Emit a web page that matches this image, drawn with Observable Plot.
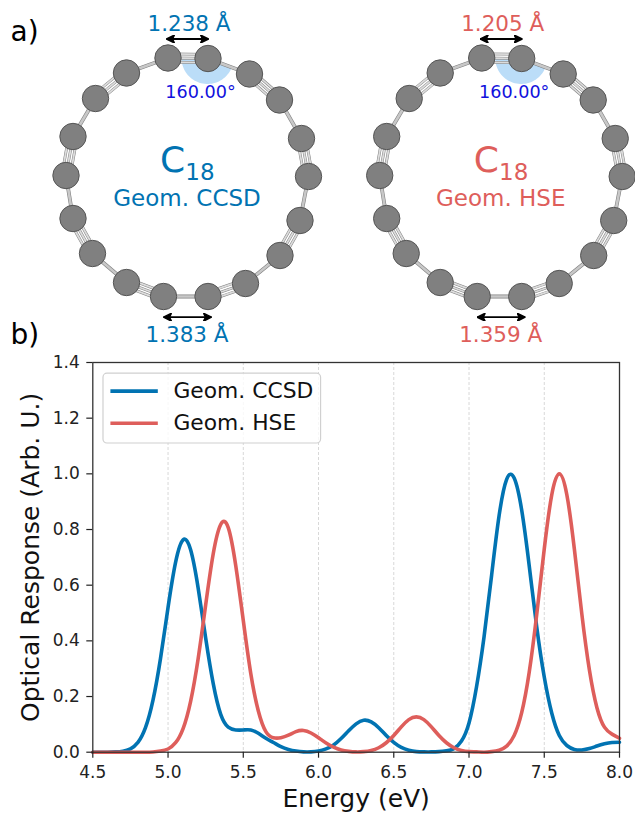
<!DOCTYPE html>
<html>
<head>
<meta charset="utf-8">
<style>
html,body{margin:0;padding:0;background:#fff;}
#page{position:relative;width:635px;height:813px;overflow:hidden;}
#page>svg{position:absolute;left:0;}
</style>
<script src="https://cdn.jsdelivr.net/npm/d3@7"></script>
<script src="https://cdn.jsdelivr.net/npm/@observablehq/plot@0.6"></script>
</head>
<body>
<div id="page"></div>
<script>
// Spectrum data
const energy = [4.5,4.55,4.6,4.65,4.7,4.75,4.8,4.85,4.9,4.95,5.0,5.05,5.1,5.15,5.2,5.25,5.3,5.35,5.4,5.45,5.5,5.55,5.6,5.65,5.7,5.75,5.8,5.85,5.9,5.95,6.0,6.05,6.1,6.15,6.2,6.25,6.3,6.35,6.4,6.45,6.5,6.55,6.6,6.65,6.7,6.75,6.8,6.85,6.9,6.95,7.0,7.05,7.1,7.15,7.2,7.25,7.3,7.35,7.4,7.45,7.5,7.55,7.6,7.65,7.7,7.75,7.8,7.85,7.9,7.95,8.0];
const ccsd = [0,0,0,0.001,0.0035,0.012,0.035,0.088,0.187,0.337,0.52,0.682,0.763,0.727,0.59,0.41,0.247,0.136,0.09,0.08,0.08,0.08,0.068,0.05,0.035,0.02,0.01,0.004,0.001,0.001,0.004,0.012,0.026,0.049,0.077,0.102,0.115,0.109,0.088,0.06,0.035,0.017,0.007,0.002,0.001,0.001,0.002,0.005,0.013,0.04,0.105,0.235,0.415,0.635,0.85,0.98,0.985,0.87,0.67,0.45,0.27,0.14,0.06,0.024,0.01,0.008,0.013,0.022,0.03,0.035,0.036];
const hse = [0,0,0,0,0,0,0,0,0.001,0.004,0.0115,0.034,0.085,0.183,0.336,0.529,0.712,0.818,0.807,0.67,0.473,0.282,0.148,0.074,0.052,0.052,0.061,0.074,0.078,0.069,0.052,0.033,0.018,0.008,0.003,0.001,0.002,0.006,0.016,0.034,0.06,0.091,0.117,0.127,0.117,0.091,0.06,0.034,0.016,0.006,0.002,0.001,0,0.002,0.007,0.022,0.06,0.142,0.287,0.495,0.73,0.925,1.0,0.925,0.73,0.495,0.295,0.16,0.09,0.065,0.05];
const xTicks = [4.5,5.0,5.5,6.0,6.5,7.0,7.5,8.0];
const yTicks = [0,0.2,0.4,0.6,0.8,1.0,1.2,1.4];
const gridTicks = [5.0,5.5,6.0,6.5,7.0,7.5];
const seriesNames = ["Geom. CCSD","Geom. HSE"];
const seriesColors = ["#0173B2","#DE5E5B"];

// Molecule geometry in picture units
const atomX = [167.5,207.5,249,279,301,308,299.5,279.5,245,207.5,163,126,92,72.5,65.5,72.5,95,126];
const atomY = [57.5,58,73.5,99.5,138,176,220,255,283,296,296,282,253,218,175,136,98,72.5];
const ringOffset = [0,313.7];
const shortBond = ["1.238 Å","1.205 Å"];
const longBond = ["1.383 Å","1.359 Å"];
const angleLabel = "160.00°";

const ringRows = seriesNames.map((n,i)=>({name:n,color:seriesColors[i],off:ringOffset[i],short:shortBond[i],long:longBond[i]}));
const atoms = ringRows.flatMap(r=>atomX.map((x,i)=>({x:x+r.off,y:atomY[i]})));
const bondLines = ringRows.flatMap(r=>atomX.flatMap((x,i)=>{
  const j=(i+1)%atomX.length, x1=x+r.off,y1=atomY[i],x2=atomX[j]+r.off,y2=atomY[j];
  const L=Math.hypot(x2-x1,y2-y1), nx=-(y2-y1)/L, ny=(x2-x1)/L;
  const offs = i%2===0 ? [-4.2,0,4.2] : [0];
  return offs.map(o=>({x1:x1+nx*o,y1:y1+ny*o,x2:x2+nx*o,y2:y2+ny*o,triple:i%2===0}));
}));
const wedge = ringRows.map(r=>{
  const cx=atomX[1]+r.off, cy=atomY[1], R=26;
  const start=Math.atan2(atomY[2]-cy,atomX[2]-atomX[1]), end=Math.PI;
  const pts=d3.range(0,41).map(k=>{const a=start+(end-start)*k/40;return [cx+R*Math.cos(a),cy+R*Math.sin(a)];});
  return pts.map(([x,y])=>({x,y,c:cy+(x-cx)*(x>cx?(atomY[2]-cy)/(atomX[2]-atomX[1]):0),ring:r.name}));
}).flat();

function headMarker(color, context){
  const ns="http://www.w3.org/2000/svg", doc=context.document;
  const m=doc.createElementNS(ns,"marker");
  m.setAttribute("viewBox","-5 -5 10 10");
  m.setAttribute("markerUnits","userSpaceOnUse");
  m.setAttribute("markerWidth","9");
  m.setAttribute("markerHeight","8");
  m.setAttribute("orient","auto-start-reverse");
  m.setAttribute("refX","5");
  m.setAttribute("refY","0");
  const p=doc.createElementNS(ns,"path");
  p.setAttribute("d","M-5,-5L5,0L-5,5L-2.5,0Z");
  p.setAttribute("fill",color);
  m.appendChild(p);
  return m;
}

const font = "'DejaVu Sans',sans-serif";
const topPlot = Plot.plot({
  width:635,height:365,margin:0,
  x:{domain:[0,635],range:[0,635],axis:null},
  y:{domain:[0,365],range:[0,365],axis:null},
  style:{fontFamily:font,background:"transparent"},
  marks:[
    Plot.areaY(wedge,{x:"x",y1:"c",y2:"y",z:"ring",fill:"#BBDDF8",curve:"linear"}),
    Plot.link(bondLines.filter(d=>d.triple),{x1:"x1",y1:"y1",x2:"x2",y2:"y2",stroke:"#808080",strokeWidth:2.8}),
    Plot.link(bondLines.filter(d=>d.triple),{x1:"x1",y1:"y1",x2:"x2",y2:"y2",stroke:"#dcdcdc",strokeWidth:1.8}),
    Plot.link(bondLines.filter(d=>!d.triple),{x1:"x1",y1:"y1",x2:"x2",y2:"y2",stroke:"#808080",strokeWidth:3.8}),
    Plot.link(bondLines.filter(d=>!d.triple),{x1:"x1",y1:"y1",x2:"x2",y2:"y2",stroke:"#c8c8c8",strokeWidth:2.6}),
    Plot.dot(atoms,{x:"x",y:"y",r:13.2,fill:"#808080",stroke:"#555",strokeWidth:1}),
    Plot.link(ringRows,{x1:d=>166+d.off,x2:d=>208+d.off,y1:()=>38.5,y2:()=>38.5,stroke:"#000",strokeWidth:1.8,markerStart:headMarker,markerEnd:headMarker}),
    Plot.link(ringRows,{x1:d=>163+d.off,x2:d=>211+d.off,y1:()=>316.7,y2:()=>316.7,stroke:"#000",strokeWidth:1.8,markerStart:headMarker,markerEnd:headMarker}),
    Plot.text(ringRows,{x:d=>188.5+d.off,y:()=>24,text:"short",fill:"color",fontSize:21.5}),
    Plot.text(ringRows,{x:d=>186.5+d.off,y:()=>335,text:"long",fill:"color",fontSize:21.5}),
    Plot.text(ringRows,{x:d=>200+d.off,y:()=>92,text:()=>angleLabel,fill:"#1111DD",fontSize:17.6}),
    Plot.text(ringRows,{x:d=>172+d.off,y:()=>160,text:()=>"C",fill:"color",fontSize:36}),
    Plot.text(ringRows,{x:d=>199.5+d.off,y:()=>172,text:()=>"18",fill:"color",fontSize:23}),
    Plot.text(ringRows,{x:d=>186.5+d.off,y:()=>198,text:"name",fill:"color",fontSize:23}),
    Plot.text(["a)"],{x:()=>10,y:()=>32,text:d=>d,textAnchor:"start",fontSize:28,fill:"#000"}),
    Plot.text(["b)"],{x:()=>10,y:()=>335,text:d=>d,textAnchor:"start",fontSize:28,fill:"#000"})
  ]
});
topPlot.style.top="0px";

const rows = energy.flatMap((e,i)=>[{e,v:ccsd[i],s:seriesNames[0]},{e,v:hse[i],s:seriesNames[1]}]);
const legendRows = seriesNames.map((n,i)=>({name:n,color:seriesColors[i],y:[1.297,1.182][i]}));
const plotHeight = 468;
const chart = Plot.plot({
  width:635,height:plotHeight,
  marginTop:17,marginBottom:plotHeight-406.7,marginLeft:92.3,marginRight:16,
  x:{domain:[4.5,8.0],axis:null},
  y:{domain:[0,1.4],axis:null},
  style:{fontFamily:font,background:"transparent"},
  marks:[
    Plot.ruleX(gridTicks,{stroke:"#d8d8d8",strokeWidth:1,strokeDasharray:"3,2"}),
    Plot.line(rows.filter(d=>d.s===seriesNames[0]),{x:"e",y:"v",stroke:seriesColors[0],strokeWidth:3.6,curve:"natural"}),
    Plot.line(rows.filter(d=>d.s===seriesNames[1]),{x:"e",y:"v",stroke:seriesColors[1],strokeWidth:3.6,curve:"natural"}),
    Plot.frame({stroke:"#333",strokeWidth:1.3}),
    Plot.axisX({ticks:xTicks,tickSize:6,tickPadding:8,tickFormat:d3.format(".1f"),label:null,fontSize:17,color:"#222",strokeWidth:1.2}),
    Plot.axisY({ticks:yTicks,tickSize:6,tickPadding:7,tickFormat:d3.format(".1f"),label:null,fontSize:17,color:"#222",strokeWidth:1.2}),
    Plot.text(["Energy (eV)"],{frameAnchor:"bottom",dy:55,text:d=>d,fontSize:25,fill:"#111"}),
    Plot.text(["Optical Response (Arb. U.)"],{frameAnchor:"left",textAnchor:"middle",dx:-62,rotate:-90,text:d=>d,fontSize:25,fill:"#111"}),
    Plot.rect([0],{x1:()=>4.571,x2:()=>6.017,y1:()=>1.109,y2:()=>1.360,fill:"#fff",fillOpacity:0.8,stroke:"#d0d0d0",strokeWidth:1.2,rx:4}),
    Plot.link(legendRows,{x1:()=>4.617,x2:()=>4.932,y1:"y",y2:"y",stroke:"color",strokeWidth:3.6}),
    Plot.text(legendRows,{x:()=>5.036,y:"y",text:"name",textAnchor:"start",fontSize:21.8,fill:"#111"})
  ]
});
chart.style.top="345px";
document.getElementById("page").append(topPlot,chart);
</script>
</body>
</html>
